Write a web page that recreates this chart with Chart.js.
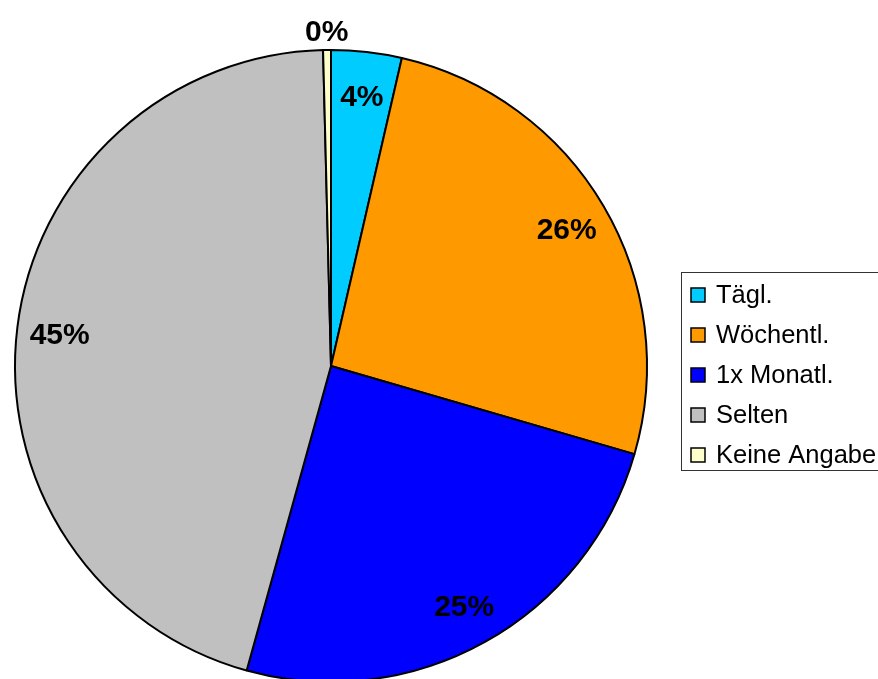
<!DOCTYPE html>
<html>
<head>
<meta charset="utf-8">
<script src="https://cdn.jsdelivr.net/npm/chart.js@4/dist/chart.umd.min.js"></script>
<style>
  html, body { margin: 0; padding: 0; background: #fff; overflow: hidden; }
  canvas { display: block; }
</style>
</head>
<body>
<canvas id="c" width="878" height="720"></canvas>
<script>
const categories = ['Tägl.', 'Wöchentl.', '1x Monatl.', 'Selten', 'Keine Angabe'];
const values = [3.6, 25.9, 24.8, 45.3, 0.4];
const percentLabels = ['4%', '26%', '25%', '45%', '0%'];
const colors = ['#00CCFF', '#FF9900', '#0000FF', '#C0C0C0', '#FFFFCC'];

const FONT = '"Liberation Sans", Arial, sans-serif';

const labelPlugin = {
  id: 'pctLabels',
  afterDatasetsDraw(chart) {
    const ctx = chart.ctx;
    const meta = chart.getDatasetMeta(0);
    ctx.save();
    ctx.font = 'bold 30px ' + FONT;
    ctx.fillStyle = '#000';
    ctx.textAlign = 'center';
    ctx.textBaseline = 'middle';
    meta.data.forEach((arc, i) => {
      const mid = (arc.startAngle + arc.endAngle) / 2;
      const v = chart.data.datasets[0].data[i];
      const f = v < 1 ? 1.065 : 0.865;
      const r = arc.outerRadius * f;
      const x = arc.x + Math.cos(mid) * r;
      const y = arc.y + Math.sin(mid) * r;
      ctx.fillText(percentLabels[i], x, y + 3);
    });
    ctx.restore();
  }
};

const legendPlugin = {
  id: 'boxLegend',
  afterDraw(chart) {
    const ctx = chart.ctx;
    const labels = chart.data.labels;
    const bg = chart.data.datasets[0].backgroundColor;
    ctx.save();
    ctx.strokeStyle = '#333';
    ctx.lineWidth = 1;
    ctx.strokeRect(681.5, 272.5, 220, 198);
    ctx.font = '25.5px ' + FONT;
    ctx.textAlign = 'left';
    ctx.textBaseline = 'middle';
    labels.forEach((lab, i) => {
      const cy = 295 + 40 * i;
      ctx.fillStyle = bg[i];
      ctx.fillRect(691, cy - 7, 14, 14);
      ctx.strokeStyle = '#000';
      ctx.lineWidth = 1.5;
      ctx.strokeRect(691, cy - 7, 14, 14);
      ctx.fillStyle = '#000';
      ctx.fillText(lab, 716, cy + 1);
    });
    ctx.restore();
  }
};

new Chart(document.getElementById('c'), {
  type: 'pie',
  data: {
    labels: categories,
    datasets: [{
      data: values,
      backgroundColor: colors,
      borderColor: '#000',
      borderWidth: 2
    }]
  },
  options: {
    responsive: false,
    animation: false,
    devicePixelRatio: 1,
    layout: { padding: { left: 14, right: 230, top: 49, bottom: 37 } },
    plugins: {
      legend: { display: false },
      tooltip: { enabled: false }
    }
  },
  plugins: [labelPlugin, legendPlugin]
});
</script>
</body>
</html>
